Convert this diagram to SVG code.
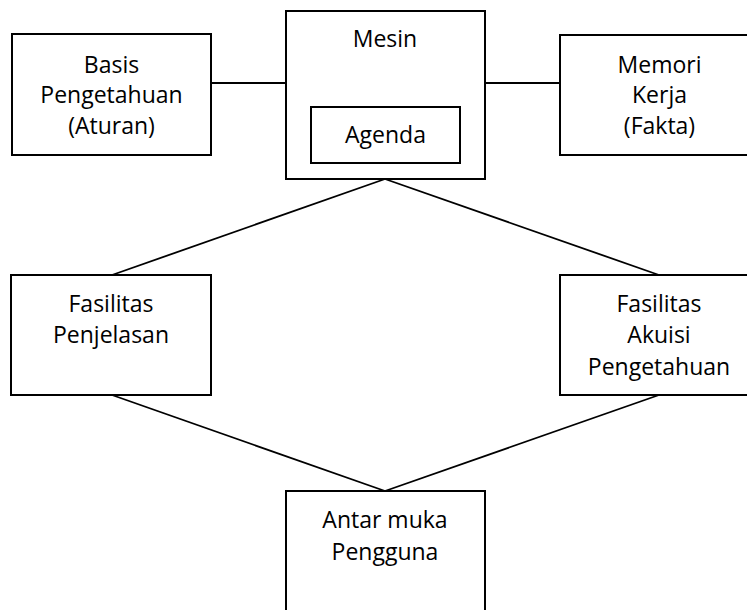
<svg xmlns="http://www.w3.org/2000/svg" width="747" height="610" viewBox="0 0 747 610">
<style>
.box{fill:#fff;stroke:#000;stroke-width:2}
.ln{stroke:#000;stroke-width:1.8;fill:none}
text{font-family:"Open Sans","Liberation Sans",sans-serif;font-size:23px;fill:#000;text-anchor:middle}
</style>
<rect width="747" height="610" fill="#fff"/>
<g id="connectors">
<line class="ln" x1="211" y1="83" x2="286" y2="83"/>
<line class="ln" x1="485" y1="83" x2="560" y2="83"/>
<line class="ln" x1="385" y1="179" x2="112" y2="275"/>
<line class="ln" x1="385" y1="179" x2="659" y2="275"/>
<line class="ln" x1="112" y1="395" x2="385" y2="491"/>
<line class="ln" x1="659" y1="395" x2="385" y2="491"/>
</g>
<g id="basis">
<rect class="box" x="12" y="34" width="199" height="121"/>
<text x="111.5" y="73">Basis</text>
<text x="111.5" y="103">Pengetahuan</text>
<text x="111.5" y="134">(Aturan)</text>
</g>
<g id="mesin">
<rect class="box" x="286" y="11" width="199" height="168"/>
<text x="385" y="47">Mesin</text>
</g>
<g id="agenda">
<rect class="box" x="311" y="107" width="149" height="56"/>
<text x="385.5" y="143">Agenda</text>
</g>
<g id="memori">
<rect class="box" x="560" y="35" width="200" height="120"/>
<text x="659.5" y="73">Memori</text>
<text x="659.5" y="103">Kerja</text>
<text x="659.5" y="134">(Fakta)</text>
</g>
<g id="penjelasan">
<rect class="box" x="11" y="275" width="200" height="120"/>
<text x="111" y="312">Fasilitas</text>
<text x="111" y="343">Penjelasan</text>
</g>
<g id="akuisi">
<rect class="box" x="560" y="275" width="200" height="120"/>
<text x="659" y="312">Fasilitas</text>
<text x="659" y="343">Akuisi</text>
<text x="659" y="375">Pengetahuan</text>
</g>
<g id="antarmuka">
<rect class="box" x="286" y="491" width="199" height="130"/>
<text x="385" y="528">Antar muka</text>
<text x="385" y="560">Pengguna</text>
</g>
</svg>
